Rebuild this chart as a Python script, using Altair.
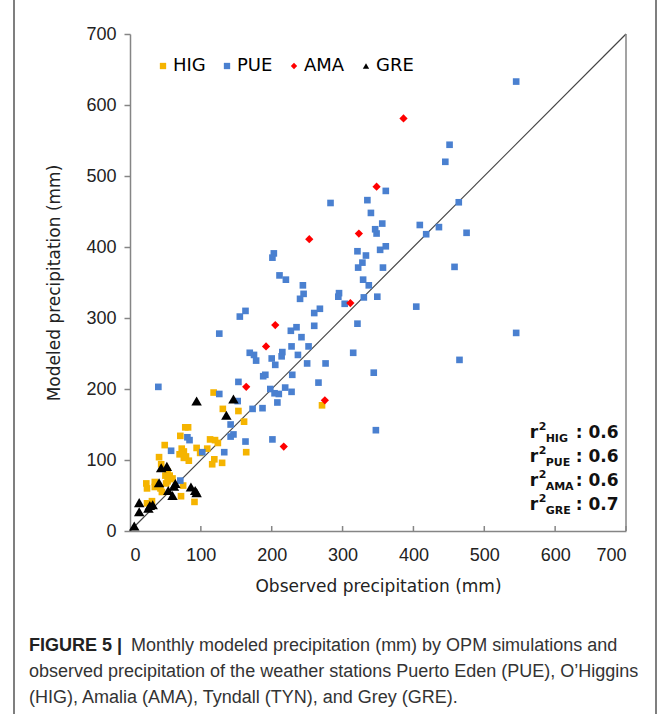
import altair as alt
import pandas as pd

# ---------------- data ----------------
stations = ["HIG", "PUE", "AMA", "GRE"]
colors = ["#F5B400", "#4A80D0", "#FF0000", "#000000"]
shapes = ["square", "square", "diamond", "triangle-up"]
sizes = [44, 44, 68, 110]
r2_values = [0.6, 0.6, 0.6, 0.7]

hig_obs = [271, 118, 131, 153, 161, 78, 82, 71, 49, 113, 120, 124, 73, 76, 79, 83, 70, 76, 94, 109,
           99, 119, 116, 130, 164, 41, 44, 53, 56, 50, 60, 56, 53, 35, 51, 23, 24, 35, 43, 45,
           75, 72, 91, 31, 24]
hig_mod = [177, 195, 172, 169, 154, 146, 146, 134, 121, 129, 128, 124, 116, 112, 105, 99, 108, 103, 117, 116,
           110, 101, 94, 96, 111, 104, 94, 84, 78, 78, 74, 73, 70, 69, 67, 67, 60, 62, 60, 55,
           64, 49, 41, 42, 39]

pue_obs = [545, 451, 445, 361, 283, 335, 340, 464, 356, 346, 348, 409, 436, 418, 475,
           321, 333, 353, 361, 328, 322, 357, 458, 329, 337, 330, 349, 404,
           244, 245, 240, 295, 294, 303, 260, 268, 260, 321, 242, 252, 237, 545, 315, 250, 276, 465, 344, 266, 347,
           203, 201, 211, 220, 227, 235, 228, 175, 178, 169, 215, 214, 200, 205, 191, 188, 229, 198, 204, 210, 219, 228, 208,
           163, 155, 126, 40, 153, 126, 152, 173, 142, 187, 201, 81, 84, 142, 146, 163, 58, 102, 133, 71]
pue_mod = [633, 544, 520, 479, 462, 466, 448, 463, 433, 425, 419, 431, 428, 418, 420,
           394, 388, 396, 401, 378, 371, 371, 372, 354, 346, 329, 330, 316,
           346, 334, 327, 335, 330, 320, 307, 313, 289, 292, 273, 260, 248, 279, 251, 236, 236, 241, 223, 209, 142,
           391, 385, 360, 354, 282, 287, 260, 248, 240, 251, 252, 246, 243, 234, 220, 218, 220, 200, 194, 193, 202, 196, 181,
           310, 302, 278, 203, 210, 193, 183, 172, 150, 173, 129, 132, 128, 133, 136, 126, 113, 111, 111, 71]

ama_obs = [386, 348, 323, 253, 311, 205, 192, 164, 275, 217]
ama_mod = [581, 485, 419, 411, 321, 290, 260, 203, 184, 119]

gre_obs = [94, 146, 136, 44, 52, 41, 64, 62, 54, 60, 86, 92, 94, 13, 13, 26, 28, 32, 6]
gre_mod = [183, 186, 163, 89, 91, 68, 67, 63, 57, 50, 62, 57, 54, 40, 27, 32, 36, 37, 7]

tick_values = [0, 100, 200, 300, 400, 500, 600, 700]

x_title = "Observed precipitation (mm)"
y_title = "Modeled precipitation (mm)"
caption_bold = "FIGURE 5 |"
caption_line1 = "Monthly modeled precipitation (mm) by OPM simulations and"
caption_rest = [
    "observed precipitation of the weather stations Puerto Eden (PUE), O\u2019Higgins",
    "(HIG), Amalia (AMA), Tyndall (TYN), and Grey (GRE).",
]

# ---------------- tables ----------------
size_of = dict(zip(stations, sizes))
rows = []
for st, obs, mod in [("HIG", hig_obs, hig_mod), ("PUE", pue_obs, pue_mod),
                     ("AMA", ama_obs, ama_mod), ("GRE", gre_obs, gre_mod)]:
    for o, m in zip(obs, mod):
        rows.append({"station": st, "obs": o, "mod": m, "msize": size_of[st]})
df = pd.DataFrame(rows)

xscale = alt.Scale(domain=[0, 700], nice=False, zero=True)
yscale = alt.Scale(domain=[0, 700], nice=False, zero=True)
AX = "#858585"

x_axis = alt.Axis(values=tick_values, title=x_title, grid=False, ticks=False, tickSize=0,
                  labelFont="Liberation Sans", labelFontSize=18, labelColor="#222222",
                  labelPadding=15, domainColor=AX, domainWidth=1.5,
                  titleFont="DejaVu Sans", titleFontSize=17, titleFontWeight="normal",
                  titleColor="#222222", titlePadding=14)
y_axis = alt.Axis(values=tick_values, title=y_title, grid=False, tickSize=6, tickColor=AX,
                  tickWidth=1.5, labelFont="Liberation Sans", labelFontSize=18,
                  labelColor="#222222", labelPadding=8, domainColor=AX, domainWidth=1.5,
                  titleFont="DejaVu Sans", titleFontSize=17, titleFontWeight="normal",
                  titleColor="#222222", titlePadding=22)

legend = alt.Legend(title=None, orient="none", legendX=24, legendY=23, direction="horizontal",
                    columns=4, labelFont="DejaVu Sans", labelFontSize=18, labelColor="#000",
                    symbolSize=40, labelOffset=1, columnPadding=12, padding=0,
                    symbolStrokeWidth=0)

points = alt.Chart(df).mark_point(filled=True, opacity=1, strokeWidth=0).encode(
    x=alt.X("obs:Q", scale=xscale, axis=x_axis),
    y=alt.Y("mod:Q", scale=yscale, axis=y_axis),
    color=alt.Color("station:N", scale=alt.Scale(domain=stations, range=colors),
                    sort=stations, legend=legend),
    shape=alt.Shape("station:N", scale=alt.Scale(domain=stations, range=shapes),
                    sort=stations, legend=legend),
    size=alt.Size("msize:Q", scale=None, legend=None),
)

# 1:1 line
one = pd.DataFrame({"a": [0], "b": [700]})
diag = alt.Chart(one).mark_rule(color="#444444", strokeWidth=1.2).encode(
    x="a:Q", y="a:Q", x2="b:Q", y2="b:Q")

# right border of plot
right_border = alt.Chart(one).mark_rule(color=AX, strokeWidth=1.5).encode(
    x="b:Q", y="a:Q", y2="b:Q")

# inward x ticks
ticks_df = pd.DataFrame({"t": tick_values[1:], "y0": 0, "y1": 7})
xticks = alt.Chart(ticks_df).mark_rule(color=AX, strokeWidth=1.5).encode(
    x="t:Q", y="y0:Q", y2="y1:Q")

# r^2 annotations
r2_df = pd.DataFrame({"station": stations, "r2": r2_values, "row": list(range(4))})
r2_base = alt.Chart(r2_df).transform_calculate(
    ry="131 - 33.6*datum.row", rx="564", rxr="629",
    val="': ' + format(datum.r2, '.1f')")
txt_style = dict(font="DejaVu Sans", fontWeight="bold", color="#111111", baseline="alphabetic")
r_txt = r2_base.mark_text(align="left", fontSize=17, **txt_style).encode(
    x="rx:Q", y="ry:Q", text=alt.value("r"))
sup_txt = r2_base.mark_text(align="left", fontSize=11, dx=9, dy=-8, **txt_style).encode(
    x="rx:Q", y="ry:Q", text=alt.value("2"))
sub_txt = r2_base.mark_text(align="left", fontSize=11, dx=16, dy=4, **txt_style).encode(
    x="rx:Q", y="ry:Q", text="station:N")
val_txt = r2_base.mark_text(align="left", fontSize=17, **txt_style).encode(
    x="rxr:Q", y="ry:Q", text="val:N")

# caption and frame (outside plot area)
dummy = pd.DataFrame({"k": [0]})
cap_bold = alt.Chart(dummy).mark_text(
    align="left", baseline="alphabetic", font="Liberation Sans", fontWeight="bold",
    fontSize=18, color="#222222").encode(
    x=alt.value(-101), y=alt.value(617), text=alt.value(caption_bold))
cap_l1 = alt.Chart(dummy).mark_text(
    align="left", baseline="alphabetic", font="Liberation Sans", fontSize=18,
    color="#333333").encode(
    x=alt.value(1), y=alt.value(617), text=alt.value(caption_line1))
cap_rest = alt.Chart(dummy).mark_text(
    align="left", baseline="alphabetic", font="Liberation Sans", fontSize=18,
    lineHeight=26, color="#333333").encode(
    x=alt.value(-101), y=alt.value(643), text=alt.value(caption_rest))
frame_l = alt.Chart(dummy).mark_rule(color="#555555", strokeWidth=1.5).encode(
    x=alt.value(-116), y=alt.value(-40), y2=alt.value(690))
frame_r = alt.Chart(dummy).mark_rule(color="#555555", strokeWidth=1.5).encode(
    x=alt.value(526), y=alt.value(-40), y2=alt.value(690))

chart = alt.layer(
    diag, right_border, xticks, points, r_txt, sup_txt, sub_txt, val_txt,
    cap_bold, cap_l1, cap_rest, frame_l, frame_r,
).properties(
    width=496, height=497,
    padding={"left": 130, "top": 34, "right": 43, "bottom": 183},
    autosize=alt.AutoSizeParams(type="none"),
    background="white",
).configure_view(stroke=None)

chart.save("out.html", embed_options={"renderer": "svg", "actions": False})
